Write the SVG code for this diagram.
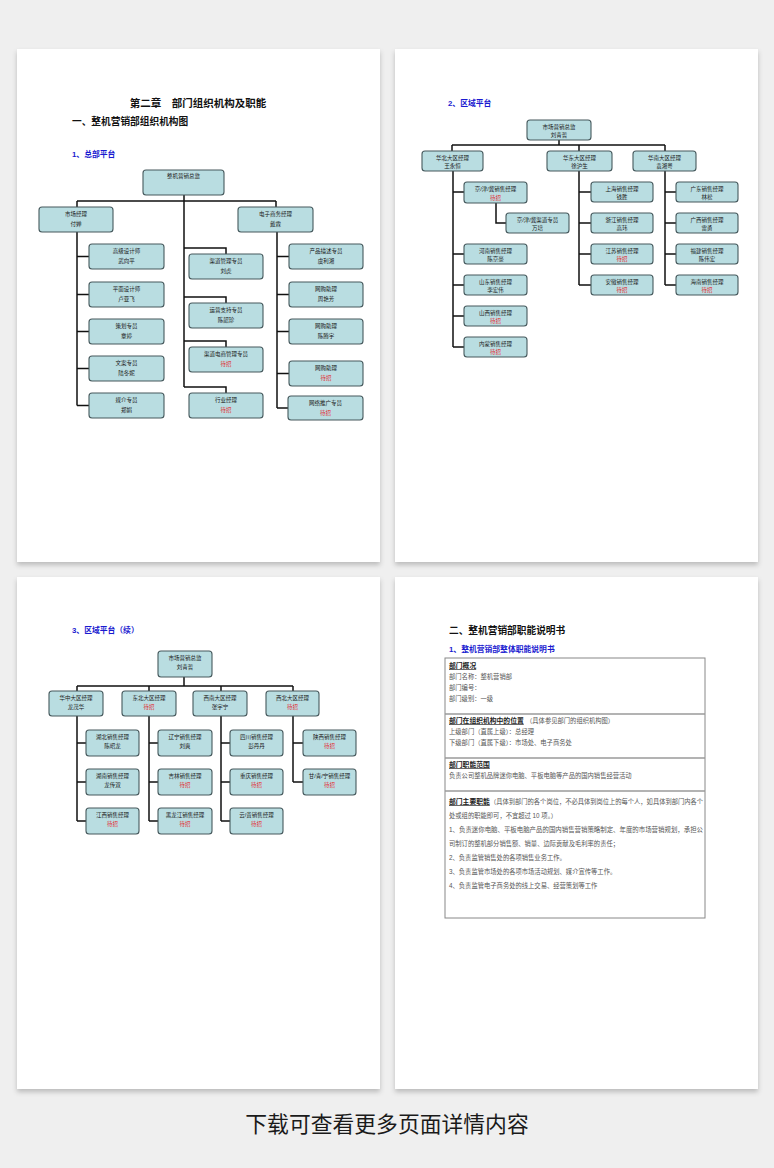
<svg xmlns="http://www.w3.org/2000/svg" width="774" height="1168" viewBox="0 0 774 1168">
<style>
text{font-family:"Liberation Sans","Noto Sans CJK SC",sans-serif}
.pg{fill:#fff;filter:url(#sh)}
.bx{fill:#b9dde1;stroke:#46595d;stroke-width:1.1}
.t{font-size:5.5px;fill:#1a1a1a;text-anchor:middle}
.r{fill:#e3262c}
.ln{stroke:#111;stroke-width:1.5;fill:none}
.h1{font-size:10.5px;font-weight:bold;fill:#111}
.h2{font-size:9.7px;font-weight:bold;fill:#111}
.bl{font-size:7.8px;font-weight:bold;fill:#1a1ad0}
.tb{font-size:6.3px;fill:#555}
.tk{font-size:6.8px;font-weight:bold;fill:#222;text-decoration:underline}
.sep{stroke:#9a9a9a;stroke-width:1.5}
</style>
<defs>
<filter id="sh" x="-5%" y="-5%" width="110%" height="110%">
<feDropShadow dx="0" dy="3" stdDeviation="2.5" flood-color="#000" flood-opacity="0.22"/>
</filter>
</defs>
<rect width="774" height="1168" fill="#efefef"/>
<rect class="pg" x="17" y="49" width="363" height="513"/>
<rect class="pg" x="395" y="49" width="363" height="513"/>
<rect class="pg" x="17" y="577" width="363" height="512"/>
<rect class="pg" x="395" y="577" width="363" height="512"/>

<!-- Page 1 -->
<text class="h1" x="198" y="107" text-anchor="middle">第二章&#12288;部门组织机构及职能</text>
<text class="h2" x="72" y="125">一、整机营销部组织机构图</text>
<text class="bl" x="72" y="157">1、总部平台</text>
<g id="p1-connectors">
<path class="ln" d="M184,195V387M77,201H276M77,201V207M276,201V207"/>
<path class="ln" d="M77,232V405.5M77,256.5H89M77,294.5H89M77,331.5H89M77,368.5H89M77,405.5H89"/>
<path class="ln" d="M184,248H226V254M184,297H226V303M184,341H226V347M184,387H226V393"/>
<path class="ln" d="M277,232V408M277,256.5H289M277,294.5H289M277,331.5H289M277,373.5H289M277,408H289"/>
</g>
<g id="p1-top"><rect class="bx" x="143" y="170" width="81" height="25" rx="3"/><text class="t" x="183.5" y="178">整机营销总监</text></g>
<g id="p1-sc"><rect class="bx" x="39" y="207" width="74" height="25" rx="3"/><text class="t" x="76" y="216">市场经理</text><text class="t" x="76" y="226">付婵</text></g>
<g id="p1-ds"><rect class="bx" x="238" y="207" width="75" height="25" rx="3"/><text class="t" x="275.5" y="216">电子商务经理</text><text class="t" x="275.5" y="226">戴霖</text></g>
<g id="p1-l1"><rect class="bx" x="89" y="244" width="75" height="25" rx="3"/><text class="t" x="126.5" y="253">高级设计师</text><text class="t" x="126.5" y="263">武向平</text></g>
<g id="p1-l2"><rect class="bx" x="89" y="282" width="75" height="25" rx="3"/><text class="t" x="126.5" y="291">平面设计师</text><text class="t" x="126.5" y="301">卢亚飞</text></g>
<g id="p1-l3"><rect class="bx" x="89" y="319" width="75" height="25" rx="3"/><text class="t" x="126.5" y="328">策划专员</text><text class="t" x="126.5" y="338">章婷</text></g>
<g id="p1-l4"><rect class="bx" x="89" y="356" width="75" height="25" rx="3"/><text class="t" x="126.5" y="365">文案专员</text><text class="t" x="126.5" y="375">陆冬妮</text></g>
<g id="p1-l5"><rect class="bx" x="89" y="393" width="75" height="25" rx="3"/><text class="t" x="126.5" y="402">媒介专员</text><text class="t" x="126.5" y="412">郑娟</text></g>
<g id="p1-m1"><rect class="bx" x="189" y="254" width="74" height="25" rx="3"/><text class="t" x="226" y="263">渠道管理专员</text><text class="t" x="226" y="273">刘虎</text></g>
<g id="p1-m2"><rect class="bx" x="189" y="303" width="74" height="25" rx="3"/><text class="t" x="226" y="312">运营支持专员</text><text class="t" x="226" y="322">陈韶珍</text></g>
<g id="p1-m3"><rect class="bx" x="189" y="347" width="74" height="25" rx="3"/><text class="t" x="226" y="356">渠道电商管理专员</text><text class="t r" x="226" y="366">待招</text></g>
<g id="p1-m4"><rect class="bx" x="189" y="393" width="74" height="25" rx="3"/><text class="t" x="226" y="402">行业经理</text><text class="t r" x="226" y="412">待招</text></g>
<g id="p1-r1"><rect class="bx" x="289" y="244" width="74" height="25" rx="3"/><text class="t" x="326" y="253">产品描述专员</text><text class="t" x="326" y="263">虞利湘</text></g>
<g id="p1-r2"><rect class="bx" x="289" y="282" width="74" height="25" rx="3"/><text class="t" x="326" y="291">网购助理</text><text class="t" x="326" y="301">周艳芳</text></g>
<g id="p1-r3"><rect class="bx" x="289" y="319" width="74" height="25" rx="3"/><text class="t" x="326" y="328">网购助理</text><text class="t" x="326" y="338">陈腾宇</text></g>
<g id="p1-r4"><rect class="bx" x="289" y="361" width="74" height="25" rx="3"/><text class="t" x="326" y="370">网购助理</text><text class="t r" x="326" y="380">待招</text></g>
<g id="p1-r5"><rect class="bx" x="288" y="396" width="75" height="24" rx="3"/><text class="t" x="325.5" y="405">网络推广专员</text><text class="t r" x="325.5" y="415">待招</text></g>

<!-- Page 2 -->
<text class="bl" x="448" y="106">2、区域平台</text>
<g id="p2-connectors">
<path class="ln" d="M559,140V145M452,145H665M452,145V151M579,145V151M665,145V151"/>
<path class="ln" d="M453,171V347M453,192H464M453,254H464M453,285H464M453,316H464M453,347H464M496,202V223H506"/>
<path class="ln" d="M579,171V285M579,192H591M579,223H591M579,254H591M579,285H591"/>
<path class="ln" d="M665,171V285M665,192H676M665,223H676M665,254H676M665,285H676"/>
</g>
<g id="p2-top"><rect class="bx" x="527" y="120" width="64" height="20" rx="3"/><text class="t" x="559" y="129">市场营销总监</text><text class="t" x="559" y="137">刘青哲</text></g>
<g id="p2-hb"><rect class="bx" x="422" y="151" width="61" height="20" rx="3"/><text class="t" x="452.5" y="160">华北大区经理</text><text class="t" x="452.5" y="168">王永恒</text></g>
<g id="p2-hd"><rect class="bx" x="547" y="151" width="65" height="20" rx="3"/><text class="t" x="579.5" y="160">华东大区经理</text><text class="t" x="579.5" y="168">徐沪生</text></g>
<g id="p2-hn"><rect class="bx" x="633" y="151" width="63" height="20" rx="3"/><text class="t" x="664.5" y="160">华南大区经理</text><text class="t" x="664.5" y="168">袁湘粤</text></g>
<g id="p2-b1"><rect class="bx" x="464" y="182" width="63" height="21" rx="3"/><text class="t" x="495.5" y="191">京/津/冀销售经理</text><text class="t r" x="495.5" y="200">待招</text></g>
<g id="p2-b1s"><rect class="bx" x="506" y="213" width="63" height="20" rx="3"/><text class="t" x="537.5" y="222">京/津/冀渠道专员</text><text class="t" x="537.5" y="230">万培</text></g>
<g id="p2-b2"><rect class="bx" x="464" y="244" width="63" height="20" rx="3"/><text class="t" x="495.5" y="253">河南销售经理</text><text class="t" x="495.5" y="261">陈京豪</text></g>
<g id="p2-b3"><rect class="bx" x="464" y="275" width="63" height="20" rx="3"/><text class="t" x="495.5" y="284">山东销售经理</text><text class="t" x="495.5" y="292">李宏伟</text></g>
<g id="p2-b4"><rect class="bx" x="464" y="306" width="63" height="20" rx="3"/><text class="t" x="495.5" y="315">山西销售经理</text><text class="t r" x="495.5" y="323">待招</text></g>
<g id="p2-b5"><rect class="bx" x="464" y="337" width="63" height="20" rx="3"/><text class="t" x="495.5" y="346">内蒙销售经理</text><text class="t r" x="495.5" y="354">待招</text></g>
<g id="p2-d1"><rect class="bx" x="591" y="182" width="62" height="20" rx="3"/><text class="t" x="622" y="191">上海销售经理</text><text class="t" x="622" y="199">钱胜</text></g>
<g id="p2-d2"><rect class="bx" x="591" y="213" width="62" height="20" rx="3"/><text class="t" x="622" y="222">浙江销售经理</text><text class="t" x="622" y="230">高玮</text></g>
<g id="p2-d3"><rect class="bx" x="591" y="244" width="62" height="20" rx="3"/><text class="t" x="622" y="253">江苏销售经理</text><text class="t r" x="622" y="261">待招</text></g>
<g id="p2-d4"><rect class="bx" x="591" y="275" width="62" height="20" rx="3"/><text class="t" x="622" y="284">安徽销售经理</text><text class="t r" x="622" y="292">待招</text></g>
<g id="p2-n1"><rect class="bx" x="676" y="182" width="62" height="20" rx="3"/><text class="t" x="707" y="191">广东销售经理</text><text class="t" x="707" y="199">林松</text></g>
<g id="p2-n2"><rect class="bx" x="676" y="213" width="62" height="20" rx="3"/><text class="t" x="707" y="222">广西销售经理</text><text class="t" x="707" y="230">雷勇</text></g>
<g id="p2-n3"><rect class="bx" x="676" y="244" width="62" height="20" rx="3"/><text class="t" x="707" y="253">福建销售经理</text><text class="t" x="707" y="261">陈伟宏</text></g>
<g id="p2-n4"><rect class="bx" x="676" y="275" width="62" height="20" rx="3"/><text class="t" x="707" y="284">海南销售经理</text><text class="t r" x="707" y="292">待招</text></g>

<!-- Page 3 -->
<text class="bl" x="72" y="633">3、区域平台（续）</text>
<g id="p3-connectors">
<path class="ln" d="M184,677V686M77,686H293M77,686V691M149,686V691M221,686V691M293,686V691"/>
<path class="ln" d="M77,716V821M77,743H86M77,782H86M77,821H86"/>
<path class="ln" d="M149,716V821M149,743H158M149,782H158M149,821H158"/>
<path class="ln" d="M221,716V821M221,743H230M221,782H230M221,821H230"/>
<path class="ln" d="M293,716V782M293,743H303M293,782H303"/>
</g>
<g id="p3-top"><rect class="bx" x="158" y="651" width="54" height="26" rx="3"/><text class="t" x="185" y="659.5">市场营销总监</text><text class="t" x="185" y="669">刘青哲</text></g>
<g id="p3-hz"><rect class="bx" x="49" y="691" width="54" height="25" rx="3"/><text class="t" x="76" y="699.5">华中大区经理</text><text class="t" x="76" y="709">龙茂华</text></g>
<g id="p3-db"><rect class="bx" x="122" y="691" width="54" height="25" rx="3"/><text class="t" x="149" y="699.5">东北大区经理</text><text class="t r" x="149" y="709">待招</text></g>
<g id="p3-xn"><rect class="bx" x="193" y="691" width="54" height="25" rx="3"/><text class="t" x="220" y="699.5">西南大区经理</text><text class="t" x="220" y="709">张宇宁</text></g>
<g id="p3-xb"><rect class="bx" x="266" y="691" width="53" height="25" rx="3"/><text class="t" x="292.5" y="699.5">西北大区经理</text><text class="t r" x="292.5" y="709">待招</text></g>
<g id="p3-a1"><rect class="bx" x="86" y="730" width="53" height="26" rx="3"/><text class="t" x="112.5" y="738.5">湖北销售经理</text><text class="t" x="112.5" y="748">陈昭龙</text></g>
<g id="p3-a2"><rect class="bx" x="86" y="769" width="53" height="26" rx="3"/><text class="t" x="112.5" y="777.5">湖南销售经理</text><text class="t" x="112.5" y="787">龙传双</text></g>
<g id="p3-a3"><rect class="bx" x="86" y="808" width="53" height="26" rx="3"/><text class="t" x="112.5" y="816.5">江西销售经理</text><text class="t r" x="112.5" y="826">待招</text></g>
<g id="p3-b1"><rect class="bx" x="158" y="730" width="54" height="26" rx="3"/><text class="t" x="185" y="738.5">辽宁销售经理</text><text class="t" x="185" y="748">刘爽</text></g>
<g id="p3-b2"><rect class="bx" x="158" y="769" width="54" height="26" rx="3"/><text class="t" x="185" y="777.5">吉林销售经理</text><text class="t r" x="185" y="787">待招</text></g>
<g id="p3-b3"><rect class="bx" x="158" y="808" width="54" height="26" rx="3"/><text class="t" x="185" y="816.5">黑龙江销售经理</text><text class="t r" x="185" y="826">待招</text></g>
<g id="p3-c1"><rect class="bx" x="230" y="730" width="53" height="26" rx="3"/><text class="t" x="256.5" y="738.5">四川销售经理</text><text class="t" x="256.5" y="748">彭丹丹</text></g>
<g id="p3-c2"><rect class="bx" x="230" y="769" width="53" height="26" rx="3"/><text class="t" x="256.5" y="777.5">重庆销售经理</text><text class="t r" x="256.5" y="787">待招</text></g>
<g id="p3-c3"><rect class="bx" x="230" y="808" width="53" height="26" rx="3"/><text class="t" x="256.5" y="816.5">云/贵销售经理</text><text class="t r" x="256.5" y="826">待招</text></g>
<g id="p3-d1"><rect class="bx" x="303" y="730" width="53" height="26" rx="3"/><text class="t" x="329.5" y="738.5">陕西销售经理</text><text class="t r" x="329.5" y="748">待招</text></g>
<g id="p3-d2"><rect class="bx" x="303" y="769" width="53" height="26" rx="3"/><text class="t" x="329.5" y="777.5">甘/青/宁销售经理</text><text class="t r" x="329.5" y="787">待招</text></g>

<!-- Page 4 -->
<text class="h2" x="449" y="634">二、整机营销部职能说明书</text>
<text class="bl" x="449" y="652">1、整机营销部整体职能说明书</text>
<g id="p4-table">
<rect x="445" y="658" width="260" height="260" fill="none" stroke="#888" stroke-width="1"/>
<line class="sep" x1="445" y1="714" x2="705" y2="714"/>
<line class="sep" x1="445" y1="758" x2="705" y2="758"/>
<line class="sep" x1="445" y1="791" x2="705" y2="791"/>
<text class="tk" x="449" y="668">部门概况</text>
<text class="tb" x="449" y="679">部门名称：整机营销部</text>
<text class="tb" x="449" y="690">部门编号：</text>
<text class="tb" x="449" y="701">部门级别：一级</text>
<text class="tk" x="449" y="723">部门在组织机构中的位置</text>
<text class="tb" x="526" y="723">（具体参见部门的组织机构图）</text>
<text class="tb" x="449" y="734">上级部门（直属上级）：总经理</text>
<text class="tb" x="449" y="745">下级部门（直属下级）：市场处、电子商务处</text>
<text class="tk" x="449" y="767">部门职能范围</text>
<text class="tb" x="449" y="778">负责公司整机品牌迷你电脑、平板电脑等产品的国内销售经营活动</text>
<text class="tk" x="449" y="804">部门主要职能</text>
<text class="tb" x="490" y="804" textLength="213" lengthAdjust="spacingAndGlyphs">（具体到部门的各个岗位，不必具体到岗位上的每个人，如具体到部门内各个</text>
<text class="tb" x="449" y="818">处或组的职能即可，不宜超过 10 项。）</text>
<text class="tb" x="449" y="832" textLength="254" lengthAdjust="spacingAndGlyphs">1、负责迷你电脑、平板电脑产品的国内销售营销策略制定、年度的市场营销规划，承担公</text>
<text class="tb" x="449" y="846">司制订的整机部分销售额、销量、边际贡献及毛利率的责任；</text>
<text class="tb" x="449" y="860">2、负责监管销售处的各项销售业务工作。</text>
<text class="tb" x="449" y="874">3、负责监管市场处的各项市场活动规划、媒介宣传等工作。</text>
<text class="tb" x="449" y="888">4、负责监管电子商务处的线上交易、经营策划等工作</text>
</g>

<text x="387" y="1132" text-anchor="middle" style="font-size:21.8px;fill:#1a1a1a">下载可查看更多页面详情内容</text>
</svg>
